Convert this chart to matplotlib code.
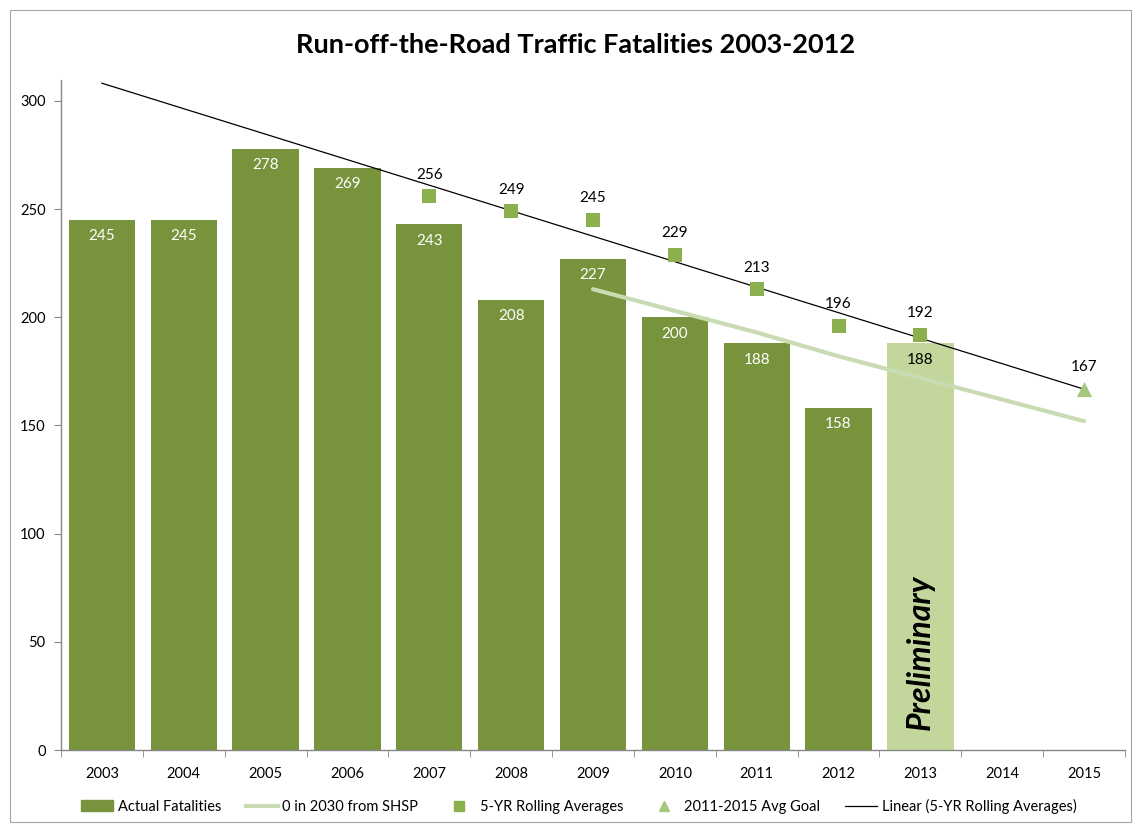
import matplotlib
matplotlib.use("Agg")
import matplotlib.pyplot as plt
import numpy as np
from matplotlib.lines import Line2D
from matplotlib.patches import Patch, Rectangle

plt.rcParams['font.family'] = ['Lato', 'DejaVu Sans']

years = ['2003', '2004', '2005', '2006', '2007', '2008', '2009',
         '2010', '2011', '2012', '2013', '2014', '2015']
actual_years = ['2003', '2004', '2005', '2006', '2007', '2008', '2009',
                '2010', '2011', '2012']
actual = [245, 245, 278, 269, 243, 208, 227, 200, 188, 158]
prelim_years = ['2013']
prelim = [188]
roll_years = ['2007', '2008', '2009', '2010', '2011', '2012', '2013']
roll_avg = [256, 249, 245, 229, 213, 196, 192]
goal_years = ['2015']
goal = [167]
shsp_years = ['2009', '2010', '2011', '2012', '2013', '2014', '2015']
shsp = [213, 203, 193, 182, 172, 162, 152]
yticks = [0, 50, 100, 150, 200, 250, 300]

DARK = '#77933C'
LIGHT = '#C3D69B'
SQ = '#8DB04F'
TRI = '#A7C780'
SHSP_C = '#C9DBB2'

fig = plt.figure(figsize=(11.35, 8.26), dpi=100)
fig.patches.append(Rectangle((10/1135, 4/826), 1121/1135, 812/826, transform=fig.transFigure,
                             fill=False, edgecolor='#A6A6A6', linewidth=0.8))
ax = fig.add_axes([61/1135, (826-750)/826, (1125-61)/1135, (750-80)/826])

pos = {y: i for i, y in enumerate(years)}
xa = [pos[y] for y in actual_years]
xp = [pos[y] for y in prelim_years]
xr = [pos[y] for y in roll_years]
xg = [pos[y] for y in goal_years]
xs = [pos[y] for y in shsp_years]

w = 0.81
ax.bar(xa, actual, width=w, color=DARK, zorder=1)
ax.bar(xp, prelim, width=w, color=LIGHT, zorder=1)

for x, v in zip(xa, actual):
    ax.text(x, v - 7.5, str(v), ha='center', va='center', color='white', fontsize=11)
for x, v in zip(xp, prelim):
    ax.text(x, v - 7.5, str(v), ha='center', va='center', color='black', fontsize=11)

ax.plot(xs, shsp, color=SHSP_C, linewidth=3, solid_capstyle='round', zorder=2)

# linear trend of rolling averages
coef = np.polyfit(xr, roll_avg, 1)
xt = np.array([0, len(years) - 1])
ax.plot(xt, np.polyval(coef, xt), color='black', linewidth=0.9, zorder=3)

ax.scatter(xr, roll_avg, marker='s', s=110, color=SQ, zorder=4, linewidths=0)
ax.scatter(xg, goal, marker='^', s=120, color=TRI, zorder=4, linewidths=0)
for x, v in zip(xr + xg, roll_avg + goal):
    ax.text(x, v + 10, str(v), ha='center', va='center', color='black', fontsize=11)

ax.text(xp[0], 45, 'Preliminary', rotation=90, ha='center', va='center',
        fontsize=23, fontweight='bold', fontstyle='italic', color='black')

ax.set_xlim(-0.5, len(years) - 0.5)
ax.set_ylim(0, 309.7)
ax.set_yticks(yticks)
ax.set_yticklabels([str(t) for t in yticks], fontsize=10.5)
ax.set_xticks(range(len(years)))
ax.set_xticklabels(years, fontsize=10.5)
ax.set_xticks(np.arange(-0.5, len(years), 1), minor=True)
ax.tick_params(axis='x', which='major', length=0, pad=12)
ax.tick_params(axis='x', which='minor', length=5, color='#868686', direction='out')
ax.tick_params(axis='y', length=5, color='#868686', direction='out', pad=6)
for s in ['top', 'right']:
    ax.spines[s].set_visible(False)
for s in ['left', 'bottom']:
    ax.spines[s].set_color('#868686')
    ax.spines[s].set_linewidth(1)

fig.text(0.507, 0.945, 'Run-off-the-Road Traffic Fatalities 2003-2012', ha='center', va='center',
         fontsize=19.5, fontweight='bold')

handles = [
    Patch(color=DARK),
    Line2D([], [], color=SHSP_C, linewidth=3),
    Line2D([], [], marker='s', linestyle='none', color=SQ, markersize=7),
    Line2D([], [], marker='^', linestyle='none', color=TRI, markersize=7),
    Line2D([], [], color='black', linewidth=0.9),
]
labels = ['Actual Fatalities', '0 in 2030 from SHSP', '5-YR Rolling Averages',
          '2011-2015 Avg Goal', 'Linear (5-YR Rolling Averages)']
fig.legend(handles, labels, loc='center', bbox_to_anchor=(0.51, 0.024), ncol=5,
           frameon=False, fontsize=10.5, handlelength=2.2, columnspacing=1.7,
           handletextpad=0.3)

fig.savefig('out.png', dpi=100)
